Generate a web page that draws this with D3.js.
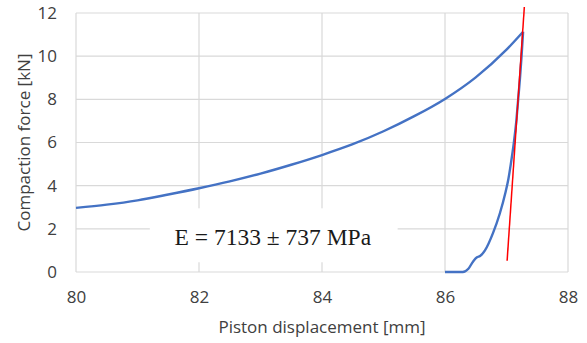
<!DOCTYPE html>
<html>
<head>
<meta charset="utf-8">
<script src="https://cdn.jsdelivr.net/npm/d3@7"></script>
<style>
  body { margin: 0; background: #fff; }
  text { font-family: "Open Sans", "Liberation Sans", sans-serif; }
</style>
</head>
<body>
<svg id="chart" width="587" height="343"></svg>
<script>
  // ---------------- data ----------------
  const xTicks = [80, 82, 84, 86, 88];
  const yTicks = [0, 2, 4, 6, 8, 10, 12];

  // loading branch (up to the peak)
  const loadMm = [86.0, 86.29, 86.38, 86.46, 86.52, 86.57, 86.65, 86.78, 86.89, 86.98, 87.03, 87.07, 87.12, 87.16, 87.19, 87.22, 87.245, 87.27];
  const loadKn = [0, 0, 0.15, 0.5, 0.68, 0.74, 1.0, 1.8, 2.7, 3.65, 4.3, 5.0, 6.0, 7.0, 8.0, 9.0, 10.0, 11.13];
  // unloading branch (from the peak back)
  const unloadMm = [87.27, 87.0, 86.5, 86.0, 85.5, 85.0, 84.5, 84.0, 83.5, 83.0, 82.5, 82.0, 81.5, 81.0, 80.5, 80.0];
  const unloadKn = [11.13, 10.3, 9.02, 8.02, 7.22, 6.52, 5.92, 5.42, 4.97, 4.56, 4.2, 3.88, 3.59, 3.32, 3.12, 2.97];

  // fitted slope line
  const fitX = [87.01, 87.29];
  const fitY = [0.52, 12.28];

  const label = "E = 7133 ± 737 MPa";

  const svg = d3.select("#chart");
  const margin = { top: 13, right: 19, bottom: 71, left: 76 };
  const innerWidth = 587 - margin.left - margin.right;
  const innerHeight = 343 - margin.top - margin.bottom;

  const g = svg.append("g")
    .attr("transform", `translate(${margin.left}, ${margin.top})`);

  const x = d3.scaleLinear().domain([80, 88]).range([0, innerWidth]);
  const y = d3.scaleLinear().domain([0, 12]).range([innerHeight, 0]);

  // grid
  g.append("g").selectAll("line").data(yTicks).enter().append("line")
    .attr("x1", 0).attr("x2", innerWidth)
    .attr("y1", d => y(d)).attr("y2", d => y(d))
    .attr("stroke", "#d9d9d9").attr("stroke-width", 1.2);
  g.append("g").selectAll("line").data(xTicks).enter().append("line")
    .attr("y1", 0).attr("y2", innerHeight)
    .attr("x1", d => x(d)).attr("x2", d => x(d))
    .attr("stroke", "#d9d9d9").attr("stroke-width", 1.2);

  // axes (labels only)
  const xAxis = g.append("g")
    .attr("transform", `translate(0, ${innerHeight})`)
    .call(d3.axisBottom(x).tickValues(xTicks).tickSize(0).tickPadding(19));
  const yAxis = g.append("g")
    .call(d3.axisLeft(y).tickValues(yTicks).tickSize(0).tickPadding(19));
  [xAxis, yAxis].forEach(a => {
    a.attr("font-size", 17).attr("font-family", "'Open Sans', sans-serif");
    a.select(".domain").remove();
    a.selectAll("text").attr("fill", "#404040");
  });

  // curves
  const line = d3.line().x(d => x(d[0])).y(d => y(d[1])).curve(d3.curveMonotoneX);
  const loadPts = loadMm.map((d, i) => [d, loadKn[i]]);
  const unloadPts = unloadMm.map((d, i) => [d, unloadKn[i]]).reverse();
  g.selectAll(".curve")
    .data([loadPts, unloadPts])
    .enter().append("path")
    .attr("class", "curve")
    .attr("fill", "none")
    .attr("stroke", "#4472c4")
    .attr("stroke-width", 2.4)
    .attr("stroke-linejoin", "round")
    .attr("d", line);

  // annotation box
  g.append("rect")
    .attr("x", x(81.2)).attr("y", y(2.95))
    .attr("width", x(85.23) - x(81.2)).attr("height", y(0.45) - y(2.95))
    .attr("fill", "#fff");
  g.append("text")
    .attr("x", x(83.2)).attr("y", y(1.25))
    .attr("text-anchor", "middle")
    .attr("font-family", "'Liberation Serif', 'Times New Roman', serif")
    .attr("font-size", 23.5)
    .style("font-family", "'Liberation Serif', 'Times New Roman', serif")
    .attr("fill", "#1a1a1a")
    .text(label);

  g.append("line")
    .attr("x1", x(fitX[0])).attr("y1", y(fitY[0]))
    .attr("x2", x(fitX[1])).attr("y2", y(fitY[1]))
    .attr("stroke", "#ff0000").attr("stroke-width", 1.5);

  // axis titles
  svg.append("text")
    .attr("x", margin.left + innerWidth / 2).attr("y", 333)
    .attr("text-anchor", "middle")
    .attr("fill", "#404040").attr("font-size", 17)
    .text("Piston displacement [mm]");
  svg.append("text")
    .attr("transform", `translate(30, ${margin.top + innerHeight / 2}) rotate(-90)`)
    .attr("text-anchor", "middle")
    .attr("fill", "#404040").attr("font-size", 17)
    .text("Compaction force [kN]");
</script>
</body>
</html>
